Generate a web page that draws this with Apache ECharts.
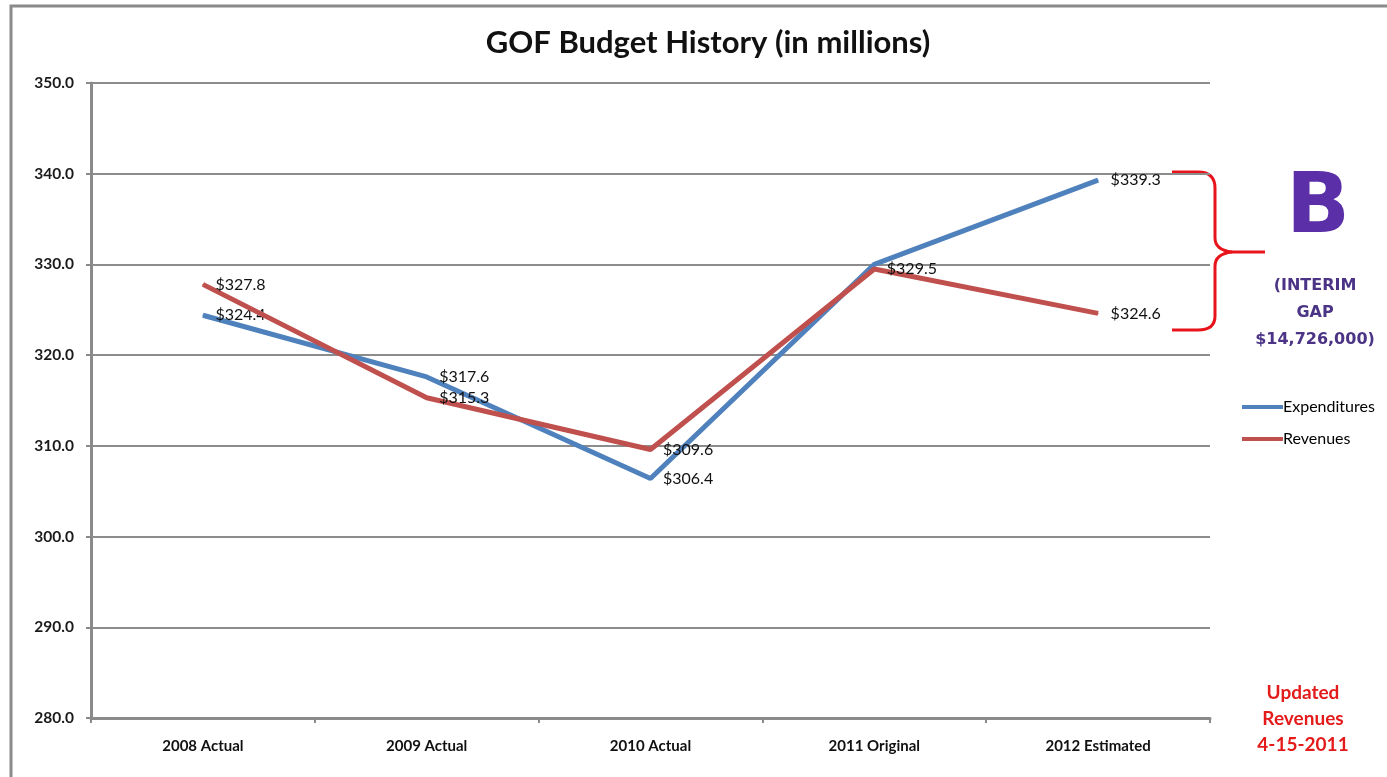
<!DOCTYPE html>
<html>
<head>
<meta charset="utf-8">
<script src="https://cdn.jsdelivr.net/npm/echarts@6/dist/echarts.min.js"></script>
<style>
html,body{margin:0;padding:0;background:#fff;}
#chart{width:1387px;height:777px;}
</style>
</head>
<body>
<div id="chart"></div>
<script>
var categories = ['2008 Actual', '2009 Actual', '2010 Actual', '2011 Original', '2012 Estimated'];
var expenditures = [324.4, 317.6, 306.4, 330.0, 339.3];
var revenues = [327.8, 315.3, 309.6, 329.5, 324.6];
var yTicks = [280, 290, 300, 310, 320, 330, 340, 350];

var FONT = 'Lato, "Open Sans", sans-serif';
var chart = echarts.init(document.getElementById('chart'));

function labelFmt(hideIdx) {
  return function (p) {
    if (hideIdx.indexOf(p.dataIndex) >= 0) return '';
    return '$' + Number(p.value).toFixed(1);
  };
}

var braceStyle = { fill: 'none', stroke: '#e8141b', lineWidth: 3 };
function seg(x1, y1, x2, y2) {
  return { type: 'line', shape: { x1: x1, y1: y1, x2: x2, y2: y2 }, style: braceStyle, silent: true };
}
function curve(x1, y1, cx, cy, x2, y2) {
  return { type: 'bezierCurve', shape: { x1: x1, y1: y1, cpx1: cx, cpy1: cy, x2: x2, y2: y2 }, style: braceStyle, silent: true };
}

var graphics = [
  {
    type: 'rect',
    shape: { x: 11, y: 6, width: 1400, height: 800 },
    style: { fill: 'none', stroke: '#8a8a8a', lineWidth: 3 },
    silent: true
  },
  {
    type: 'text',
    x: 708, y: 43,
    style: {
      text: 'GOF Budget History (in millions)',
      font: 'bold 31px ' + FONT, fill: '#111',
      textAlign: 'center', textVerticalAlign: 'middle'
    }
  },
  seg(1172, 172, 1198, 172),
  curve(1198, 172, 1215, 172, 1215, 188),
  seg(1215, 188, 1215, 238),
  curve(1215, 238, 1215, 250, 1232, 252),
  seg(1232, 252, 1265, 252),
  curve(1232, 252, 1215, 254, 1215, 266),
  seg(1215, 266, 1215, 316),
  curve(1215, 316, 1215, 330, 1198, 330),
  seg(1198, 330, 1172, 330),
  {
    type: 'text',
    x: 1318, y: 210,
    style: {
      text: 'B',
      font: 'bold 84px "DejaVu Sans", sans-serif',
      fill: '#5a2fa8',
      textAlign: 'center', textVerticalAlign: 'middle'
    }
  },
  {
    type: 'text',
    x: 1315, y: 272,
    style: {
      text: '(INTERIM\nGAP\n$14,726,000)',
      font: 'bold 16px "DejaVu Sans", sans-serif', fill: '#4b3385',
      lineHeight: 27, textAlign: 'center'
    }
  },
  {
    type: 'text',
    x: 1303, y: 680,
    style: {
      text: 'Updated\nRevenues\n4-15-2011',
      font: 'bold 19px ' + FONT, fill: '#e31b1b',
      lineHeight: 26, textAlign: 'center'
    }
  }
];

chart.setOption({
  backgroundColor: '#ffffff',
  animation: false,
  grid: { left: 91, right: 177, top: 83, bottom: 59 },
  legend: {
    orient: 'vertical',
    left: 1237,
    top: 394,
    itemWidth: 41,
    itemHeight: 4,
    itemGap: 16,
    icon: 'rect',
    textStyle: { fontFamily: FONT, fontSize: 16, color: '#000', padding: [0, 0, 0, -5] },
    data: ['Expenditures', 'Revenues']
  },
  xAxis: {
    type: 'category',
    data: categories,
    boundaryGap: true,
    axisLine: { lineStyle: { color: '#8a8a8a', width: 3 } },
    axisTick: { show: true, length: 5, lineStyle: { color: '#8a8a8a', width: 2 } },
    axisLabel: { fontFamily: FONT, fontSize: 15, fontWeight: 'bold', color: '#111', margin: 21 }
  },
  yAxis: {
    type: 'value',
    min: yTicks[0],
    max: yTicks[yTicks.length - 1],
    interval: 10,
    axisLine: { show: true, lineStyle: { color: '#8a8a8a', width: 3 } },
    axisTick: { show: true, length: 5, lineStyle: { color: '#8a8a8a', width: 2 } },
    axisLabel: {
      fontFamily: FONT, fontSize: 15.5, color: '#1a1a1a', margin: 17, fontWeight: 'bold',
      formatter: function (v) { return v.toFixed(1); }
    },
    splitLine: { show: true, lineStyle: { color: '#8c8c8c', width: 2 } }
  },
  series: [
    {
      name: 'Expenditures',
      type: 'line',
      data: expenditures,
      symbol: 'circle',
      symbolSize: 1,
      showSymbol: true,
      lineStyle: { color: '#4f81bd', width: 5 },
      itemStyle: { color: '#4f81bd' },
      label: {
        show: true, position: 'right', distance: 12,
        fontFamily: FONT, fontSize: 16, color: '#111',
        formatter: labelFmt([3])
      },
      z: 2
    },
    {
      name: 'Revenues',
      type: 'line',
      data: revenues,
      symbol: 'circle',
      symbolSize: 1,
      showSymbol: true,
      lineStyle: { color: '#c0504d', width: 5 },
      itemStyle: { color: '#c0504d' },
      label: {
        show: true, position: 'right', distance: 12,
        fontFamily: FONT, fontSize: 16, color: '#111',
        formatter: labelFmt([])
      },
      z: 3
    }
  ],
  graphic: graphics
});
</script>
</body>
</html>
